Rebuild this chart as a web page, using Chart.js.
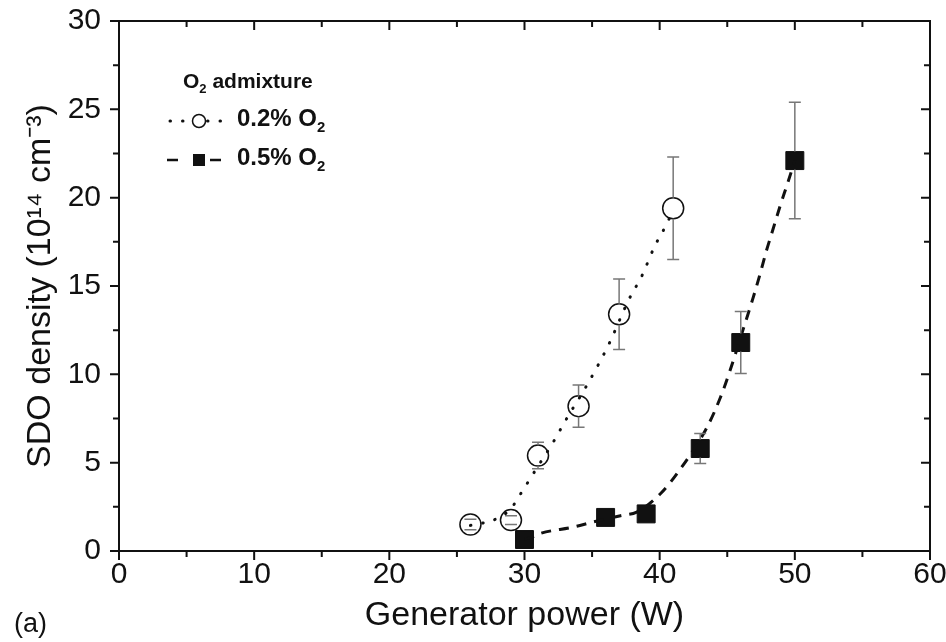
<!DOCTYPE html>
<html>
<head>
<meta charset="utf-8">
<script src="https://cdn.jsdelivr.net/npm/chart.js@4.4.1/dist/chart.umd.min.js"></script>
<style>
  body { margin: 0; background: #fff; }
  #wrap { position: relative; width: 946px; height: 642px; font-family: "Liberation Sans", Arial, sans-serif; color: #111; }
  canvas { position: absolute; left: 0; top: 0; }
  .lbl { position: absolute; font-weight: bold; white-space: nowrap; line-height: 1; }
  .lbl sub { font-size: 0.62em; vertical-align: -0.4em; line-height: 0; }
</style>
</head>
<body>
<div id="wrap">
  <canvas id="chart" width="946" height="642"></canvas>
  <div class="lbl" style="left:183px; top:70px; font-size:21px;">O<sub>2</sub> admixture</div>
  <div class="lbl" style="left:237px; top:106px; font-size:24px;">0.2% O<sub>2</sub></div>
  <div class="lbl" style="left:237px; top:145px; font-size:24px;">0.5% O<sub>2</sub></div>
  <div class="lbl" style="left:14px; top:610px; font-size:27px; font-weight:normal;">(a)</div>
</div>
<script>
// measured points, 0.2% O2 (open circles)
const powerLow = [26, 29, 31, 34, 37, 41];
const densityLow = [1.5, 1.75, 5.4, 8.2, 13.4, 19.4];
const errLow = [0.3, 0.25, 0.75, 1.2, 2.0, 2.9];

// measured points, 0.5% O2 (filled squares)
const powerHigh = [30, 36, 39, 43, 46, 50];
const densityHigh = [0.65, 1.9, 2.1, 5.8, 11.8, 22.1];
const errHigh = [0, 0, 0, 0.85, 1.75, 3.3];

// guide curves
const fitLowX = [26, 27, 28, 29, 29.6, 31, 32, 33.2, 34.4, 35.5, 36.3, 37.7, 38.7, 39.6, 40.7, 41];
const fitLowY = [1.45, 1.6, 1.85, 2.4, 3.1, 4.8, 6.0, 7.6, 9.1, 10.6, 11.8, 14.2, 15.6, 17.2, 18.8, 19.4];
const fitHighX = [30, 30.6, 31.2, 33.6, 35.1, 37.1, 38.3, 40.0, 41.4, 43.5, 44.5, 45.2, 46.2, 46.9, 47.4, 47.9, 48.3, 48.9, 49.5, 50];
const fitHighY = [0.65, 0.8, 1.0, 1.35, 1.65, 2.0, 2.2, 3.2, 4.5, 7.0, 8.7, 10.2, 12.6, 14.3, 15.6, 17.0, 18.0, 19.5, 20.9, 22.1];

const xTicks = [0, 10, 20, 30, 40, 50, 60];
const yTicks = [0, 5, 10, 15, 20, 25, 30];

const pts = (xs, ys) => xs.map((v, i) => ({ x: v, y: ys[i] }));
const FONT = '"Liberation Sans", Arial, sans-serif';

// frame, ticks on all four sides, error bars and legend samples
const framePlugin = {
  id: 'framePlugin',
  afterDatasetsDraw(chart) {
    const { ctx, scales: { x, y } } = chart;
    ctx.save();
    ctx.strokeStyle = '#777';
    ctx.lineWidth = 1.5;
    chart.data.datasets.forEach((ds) => {
      if (!ds.errors) return;
      ds.data.forEach((p, j) => {
        const e = ds.errors[j];
        if (!e) return;
        const px = x.getPixelForValue(p.x);
        const py = y.getPixelForValue(p.y);
        const top = y.getPixelForValue(p.y + e);
        const bot = y.getPixelForValue(p.y - e);
        ctx.beginPath();
        if (py - top > ds.gap) {
          ctx.moveTo(px, top); ctx.lineTo(px, py - ds.gap);
          ctx.moveTo(px, py + ds.gap); ctx.lineTo(px, bot);
        }
        ctx.moveTo(px - 6, top); ctx.lineTo(px + 6, top);
        ctx.moveTo(px - 6, bot); ctx.lineTo(px + 6, bot);
        ctx.stroke();
      });
    });
    ctx.restore();
  },
  afterDraw(chart) {
    const { ctx, chartArea: a, scales: { x, y } } = chart;
    ctx.save();
    ctx.strokeStyle = '#111';
    ctx.lineWidth = 2;
    ctx.strokeRect(a.left, a.top, a.right - a.left, a.bottom - a.top);
    ctx.beginPath();
    for (let v = 0; v <= 60; v += 5) {
      const px = x.getPixelForValue(v);
      const len = v % 10 === 0 ? 9 : 6;
      ctx.moveTo(px, a.bottom); ctx.lineTo(px, a.bottom + len);
      ctx.moveTo(px, a.top); ctx.lineTo(px, a.top + len);
    }
    for (let v = 0; v <= 30; v += 2.5) {
      const py = y.getPixelForValue(v);
      const len = v % 5 === 0 ? 9 : 6;
      ctx.moveTo(a.left - len, py); ctx.lineTo(a.left, py);
      ctx.moveTo(a.right - len, py); ctx.lineTo(a.right, py);
    }
    ctx.stroke();

    // legend samples
    ctx.lineWidth = 3;
    ctx.lineCap = 'round';
    ctx.setLineDash([0.5, 12]);
    ctx.beginPath();
    ctx.moveTo(170, 121); ctx.lineTo(226, 121);
    ctx.stroke();
    ctx.setLineDash([]);
    ctx.lineCap = 'butt';
    ctx.fillStyle = '#fff';
    ctx.lineWidth = 1.5;
    ctx.beginPath();
    ctx.arc(199, 121, 6.5, 0, Math.PI * 2);
    ctx.fill(); ctx.stroke();

    ctx.lineWidth = 2.5;
    ctx.beginPath();
    ctx.moveTo(167, 160); ctx.lineTo(178, 160);
    ctx.moveTo(210, 160); ctx.lineTo(221, 160);
    ctx.stroke();
    ctx.fillStyle = '#111';
    ctx.fillRect(193, 154, 12, 12);
    ctx.restore();
  }
};

new Chart(document.getElementById('chart'), {
  type: 'scatter',
  data: {
    datasets: [
      {
        label: 'fit 0.2% O2',
        type: 'line',
        data: pts(fitLowX, fitLowY),
        borderColor: '#111',
        borderWidth: 3,
        borderDash: [0.5, 12],
        borderCapStyle: 'round',
        cubicInterpolationMode: 'monotone',
        pointRadius: 0,
        fill: false,
        order: 0
      },
      {
        label: 'fit 0.5% O2',
        type: 'line',
        data: pts(fitHighX, fitHighY),
        borderColor: '#111',
        borderWidth: 3,
        borderDash: [10, 8],
        cubicInterpolationMode: 'monotone',
        pointRadius: 0,
        fill: false,
        order: 0
      },
      {
        label: '0.2% O2',
        data: pts(powerLow, densityLow),
        errors: errLow,
        gap: 10.5,
        pointStyle: 'circle',
        pointRadius: 10.5,
        pointBackgroundColor: '#fff',
        pointBorderColor: '#111',
        pointBorderWidth: 1.5,
        order: 1
      },
      {
        label: '0.5% O2',
        data: pts(powerHigh, densityHigh),
        errors: errHigh,
        gap: 9,
        pointStyle: 'rect',
        pointRadius: 12.7,
        pointBackgroundColor: '#111',
        pointBorderColor: '#111',
        pointBorderWidth: 1,
        order: 1
      }
    ]
  },
  options: {
    responsive: false,
    animation: false,
    layout: { padding: { left: 0, right: 16, top: 21, bottom: 0 } },
    plugins: { legend: { display: false }, tooltip: { enabled: false } },
    scales: {
      x: {
        type: 'linear',
        min: 0, max: 60,
        afterFit: (s) => { s.height = 91; s.paddingLeft = 0; s.paddingRight = 0; },
        afterBuildTicks: (s) => { s.ticks = xTicks.map(v => ({ value: v })); },
        grid: { display: false, drawTicks: false },
        border: { display: false },
        ticks: { color: '#111', padding: 6, font: { family: FONT, size: 30 } },
        title: {
          display: true,
          text: 'Generator power (W)',
          color: '#111',
          padding: { top: 0, bottom: 6 },
          font: { family: FONT, size: 34 }
        }
      },
      y: {
        type: 'linear',
        min: 0, max: 30,
        afterFit: (s) => { s.width = 119; s.paddingTop = 0; s.paddingBottom = 0; },
        afterBuildTicks: (s) => { s.ticks = yTicks.map(v => ({ value: v })); },
        grid: { display: false, drawTicks: false },
        border: { display: false },
        ticks: { color: '#111', padding: 18, font: { family: FONT, size: 30 } },
        title: {
          display: true,
          text: 'SDO density (10¹⁴ cm⁻³)',
          color: '#111',
          padding: { top: 20, bottom: 0 },
          font: { family: FONT, size: 34 }
        }
      }
    }
  },
  plugins: [framePlugin]
});
</script>
</body>
</html>
